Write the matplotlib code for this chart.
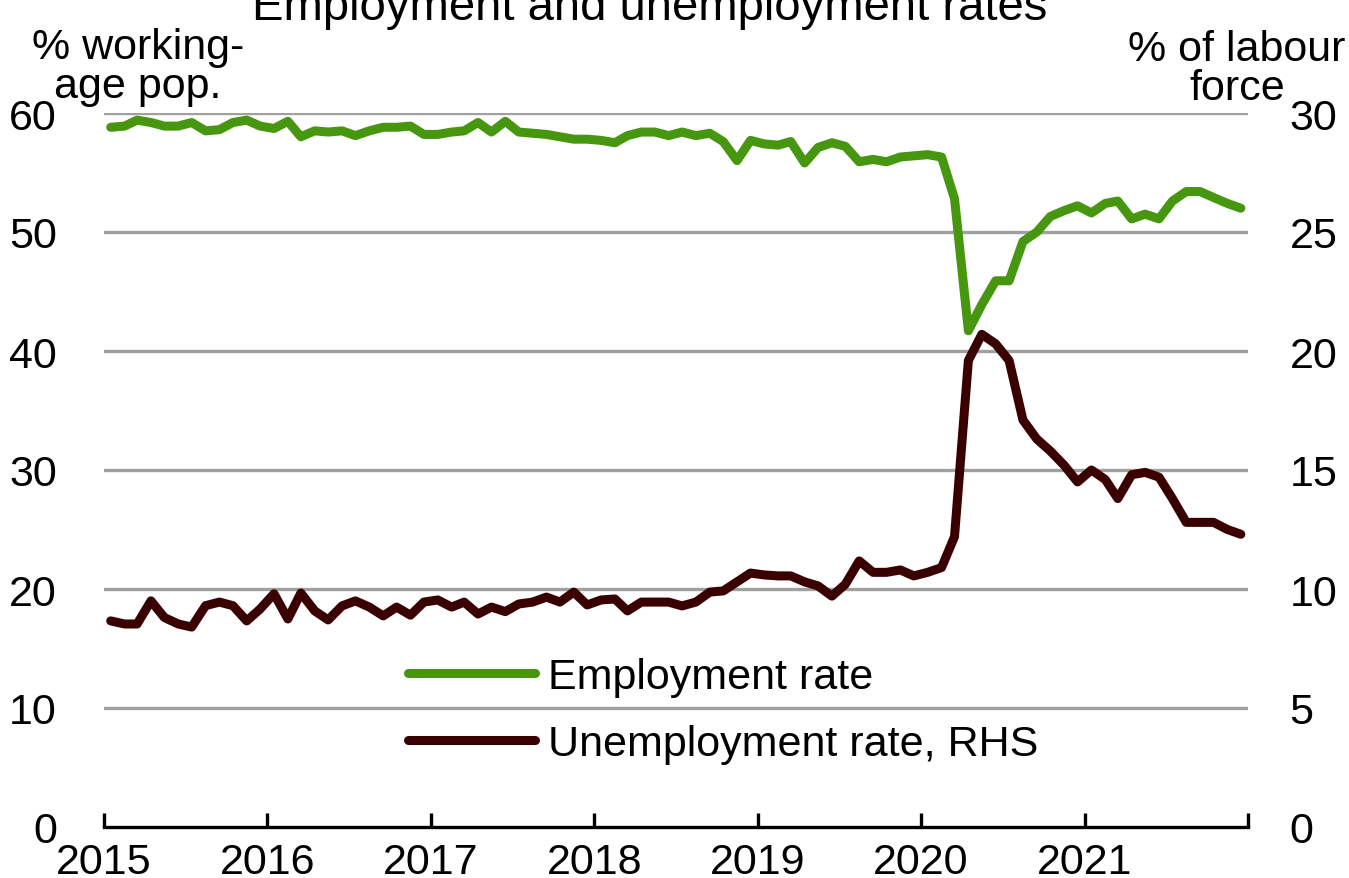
import numpy as np
import pandas as pd
import matplotlib
matplotlib.use('Agg')
import matplotlib.pyplot as plt

plt.rcParams['font.family'] = ['Liberation Sans', 'DejaVu Sans']

# monthly, Jan 2015 - Dec 2021
months = pd.date_range('2015-01-01', periods=84, freq='MS') + pd.Timedelta(days=15)

employment = [
    58.8, 58.9, 59.4, 59.2, 58.9, 58.9, 59.2, 58.5, 58.6, 59.2, 59.4, 58.9,
    58.7, 59.3, 58.0, 58.5, 58.4, 58.5, 58.1, 58.5, 58.8, 58.8, 58.9, 58.2,
    58.2, 58.4, 58.5, 59.2, 58.4, 59.3, 58.4, 58.3, 58.2, 58.0, 57.8, 57.8,
    57.7, 57.5, 58.1, 58.4, 58.4, 58.1, 58.4, 58.1, 58.3, 57.6, 56.0, 57.7,
    57.4, 57.3, 57.6, 55.8, 57.1, 57.5, 57.2, 55.9, 56.1, 55.9, 56.3, 56.4,
    56.5, 56.3, 52.8, 41.7, 43.9, 45.9, 45.9, 49.2, 50.0, 51.3, 51.8, 52.2,
    51.6, 52.4, 52.6, 51.1, 51.5, 51.1, 52.6, 53.4, 53.4, 52.9, 52.4, 52.0,
]

unemployment = [
    8.66, 8.53, 8.53, 9.50, 8.80, 8.53, 8.40, 9.30, 9.45, 9.30, 8.66, 9.16,
    9.80, 8.74, 9.83, 9.08, 8.70, 9.29, 9.50, 9.24, 8.87, 9.24, 8.90, 9.45,
    9.54, 9.24, 9.45, 8.95, 9.24, 9.05, 9.37, 9.45, 9.66, 9.45, 9.87, 9.33,
    9.54, 9.58, 9.08, 9.45, 9.45, 9.45, 9.29, 9.45, 9.87, 9.92, 10.30, 10.67,
    10.59, 10.55, 10.55, 10.30, 10.13, 9.70, 10.20, 11.18, 10.70, 10.70, 10.80, 10.55,
    10.70, 10.90, 12.20, 19.60, 20.70, 20.30, 19.60, 17.10, 16.30, 15.80, 15.20, 14.50,
    15.00, 14.60, 13.80, 14.80, 14.90, 14.70, 13.80, 12.80, 12.80, 12.80, 12.50, 12.30,
]

years = [str(y) for y in range(2015, 2022)]
green = '#46960F'
brown = '#3A0000'
fs = 31

fig = plt.figure(figsize=(13.49, 8.79), dpi=100)
ax = fig.add_axes([104/1349, 51/879, 1144/1349, 714/879])
ax2 = ax.twinx()

l1, = ax.plot(months, employment, color=green, lw=6.5, solid_joinstyle='round',
              solid_capstyle='round', zorder=3)
l2, = ax2.plot(months, unemployment, color=brown, lw=6.5, solid_joinstyle='round',
               solid_capstyle='round', zorder=3)

ax.set_ylim(0, 60)
ax2.set_ylim(0, 30)
ax.set_yticks(range(0, 61, 10))
ax2.set_yticks(range(0, 31, 5))
ax.set_xlim(pd.Timestamp('2015-01-01'), pd.Timestamp('2022-01-01'))
xt = [pd.Timestamp(f'{y}-01-01') for y in range(2015, 2023)]
ax.set_xticks(xt)
ax.set_xticklabels(years + [''])

for y in range(10, 61, 10):
    ax.axhline(y, color='#A0A0A0', lw=2.4, zorder=1)

for a in (ax, ax2):
    for s in ('top', 'left', 'right', 'bottom'):
        a.spines[s].set_visible(False)
ax.spines['bottom'].set_visible(True)
ax.spines['bottom'].set_linewidth(2.4)
ax.spines['bottom'].set_zorder(4)

ax.tick_params(axis='x', direction='in', length=10, width=2.4, labelsize=fs, pad=11)
ax.tick_params(axis='y', length=0, labelsize=fs, pad=34)
ax2.tick_params(axis='y', length=0, labelsize=fs, pad=30)

leg = ax.legend([l1, l2], ['Employment rate', 'Unemployment rate, RHS'],
                loc='upper left', bbox_to_anchor=(0.232, 0.292), frameon=False,
                fontsize=fs, handlelength=2.95, handletextpad=0.3, labelspacing=0.62)
for h in leg.get_lines():
    h.set_solid_capstyle('round')

fig.text(650/1349, 1 - 20/879, 'Employment and unemployment rates',
         ha='center', va='baseline', fontsize=34)
fig.text(138/1349, 1 - 98/879, '% working-\nage pop.', ha='center', va='baseline',
         fontsize=fs, multialignment='center', linespacing=0.98)
fig.text(1237/1349, 1 - 100/879, '% of labour\nforce', ha='center', va='baseline',
         fontsize=fs, multialignment='center', linespacing=0.98)

fig.savefig('out.png', dpi=100)
